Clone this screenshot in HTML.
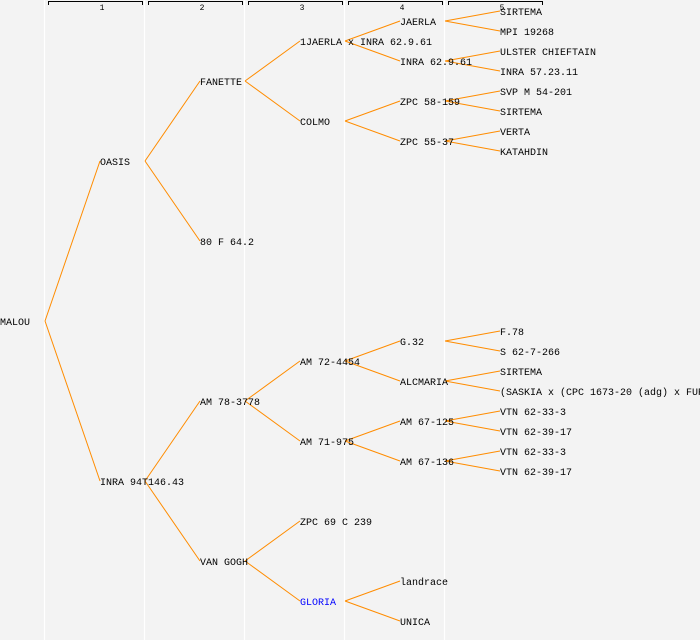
<!DOCTYPE html>
<html><head><style>
html,body{margin:0;padding:0;background:#f3f3f3;}
svg{display:block;}
text{font-family:"Liberation Mono",monospace;font-size:10px;fill:#000;}
</style></head><body>
<svg width="700" height="640" viewBox="0 0 700 640" xmlns="http://www.w3.org/2000/svg">
<rect width="700" height="640" fill="#f3f3f3"/>
<g stroke="#ffffff" stroke-width="1.2">
<line x1="44.5" y1="0" x2="44.5" y2="640"/><line x1="144.5" y1="0" x2="144.5" y2="640"/>
<line x1="244.5" y1="0" x2="244.5" y2="640"/><line x1="344.5" y1="0" x2="344.5" y2="640"/>
<line x1="444.5" y1="0" x2="444.5" y2="640"/>
</g>
<g stroke="#000" stroke-width="1" fill="none">
<path d="M48.5 5V1.5H142.5V5"/><path d="M148.5 5V1.5H242.5V5"/><path d="M248.5 5V1.5H342.5V5"/>
<path d="M348.5 5V1.5H442.5V5"/><path d="M448.5 5V1.5H542.5V5"/>
</g>
<g style="font-size:8px" text-anchor="middle">
<text x="102" y="10" style="font-size:8px">1</text><text x="202" y="10" style="font-size:8px">2</text>
<text x="302" y="10" style="font-size:8px">3</text><text x="402" y="10" style="font-size:8px">4</text>
<text x="502" y="10" style="font-size:8px">5</text>
</g>
<g stroke="#ff8c00" stroke-width="1" fill="none">
<path d="M45 321L100 161M45 321L100 481"/>
<path d="M145 161L200 81M145 161L200 241M145 481L200 401M145 481L200 561"/>
<path d="M245 81L300 41M245 81L300 121M245 401L300 361M245 401L300 441M245 561L300 521M245 561L300 601"/>
<path d="M345 41L400 21M345 41L400 61M345 121L400 101M345 121L400 141M345 361L400 341M345 361L400 381M345 441L400 421M345 441L400 461M345 601L400 581M345 601L400 621"/>
<path d="M445 21L500 11M445 21L500 31M445 61L500 51M445 61L500 71M445 101L500 91M445 101L500 111M445 141L500 131M445 141L500 151"/>
<path d="M445 341L500 331M445 341L500 351M445 381L500 371M445 381L500 391M445 421L500 411M445 421L500 431M445 461L500 451M445 461L500 471"/>
</g>
<g>
<text x="0" y="325">MALOU</text>
<text x="100" y="165">OASIS</text><text x="100" y="485">INRA 94T146.43</text>
<text x="200" y="85">FANETTE</text><text x="200" y="245">80 F 64.2</text>
<text x="200" y="405">AM 78-3778</text><text x="200" y="565">VAN GOGH</text>
<text x="300" y="45">1JAERLA x INRA 62.9.61</text><text x="300" y="125">COLMO</text>
<text x="300" y="365">AM 72-4454</text><text x="300" y="445">AM 71-975</text>
<text x="300" y="525">ZPC 69 C 239</text><text x="300" y="605" style="fill:#0000ff">GLORIA</text>
<text x="400" y="25">JAERLA</text><text x="400" y="65">INRA 62.9.61</text>
<text x="400" y="105">ZPC 58-159</text><text x="400" y="145">ZPC 55-37</text>
<text x="400" y="345">G.32</text><text x="400" y="385">ALCMARIA</text>
<text x="400" y="425">AM 67-125</text><text x="400" y="465">AM 67-136</text>
<text x="400" y="585">landrace</text><text x="400" y="625">UNICA</text>
<text x="500" y="15">SIRTEMA</text><text x="500" y="35">MPI 19268</text>
<text x="500" y="55">ULSTER CHIEFTAIN</text><text x="500" y="75">INRA 57.23.11</text>
<text x="500" y="95">SVP M 54-201</text><text x="500" y="115">SIRTEMA</text>
<text x="500" y="135">VERTA</text><text x="500" y="155">KATAHDIN</text>
<text x="500" y="335">F.78</text><text x="500" y="355">S 62-7-266</text>
<text x="500" y="375">SIRTEMA</text><text x="500" y="395">(SASKIA x (CPC 1673-20 (adg) x FUR</text>
<text x="500" y="415">VTN 62-33-3</text><text x="500" y="435">VTN 62-39-17</text>
<text x="500" y="455">VTN 62-33-3</text><text x="500" y="475">VTN 62-39-17</text>
</g>
</svg>
</body></html>
